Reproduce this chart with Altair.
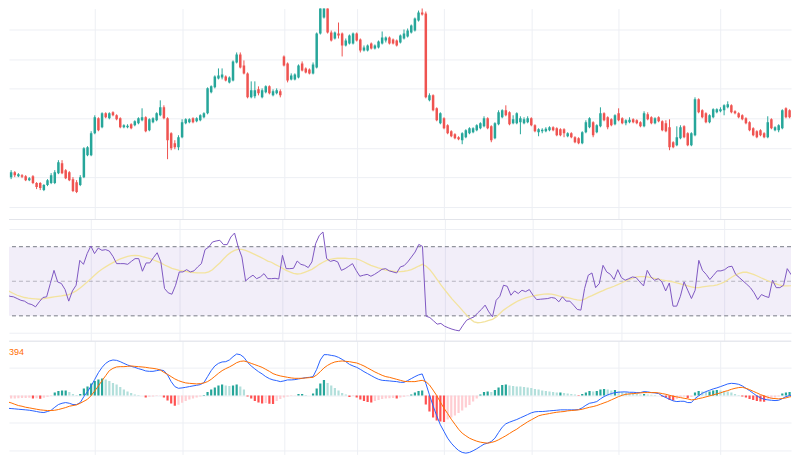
import altair as alt
import pandas as pd

W = 784
H_MAIN, H_RSI, H_MACD = 211, 122, 114

GRID = "#EDEFF4"
SEP = "#E2E4EA"
UP, DOWN = "#26A69A", "#EF5350"

open_ = [308, 303, 308, 304, 305, 304, 300, 304, 297, 297,
         290, 295, 297, 297, 307, 317, 310, 308, 301, 298,
         295, 303, 325, 325, 347, 362, 353, 367, 362, 368,
         365, 362, 353, 353, 356, 355, 357, 360, 363, 350,
         358, 360, 365, 373, 362, 347, 337, 333, 343, 357,
         358, 362, 359, 360, 363, 367, 388, 393, 402, 403,
         404, 398, 400, 418, 426, 415, 407, 383, 384, 391,
         383, 388, 394, 385, 387, 389, 424, 417, 401, 401,
         403, 417, 412, 411, 407, 413, 447, 463, 476, 448,
         442, 447, 447, 435, 437, 437, 447, 441, 430, 430,
         437, 432, 433, 437, 440, 443, 441, 440, 438, 442,
         444, 448, 450, 460, 468, 467, 380, 385, 372, 357,
         362, 355, 349, 346, 343, 340, 343, 347, 348, 350,
         352, 354, 362, 354, 342, 356, 363, 370, 368, 357,
         357, 358, 357, 358, 362, 355, 348, 349, 349, 350,
         353, 352, 351, 351, 344, 347, 343, 342, 337, 348,
         353, 358, 348, 354, 367, 363, 361, 356, 367, 362,
         357, 358, 361, 360, 358, 354, 366, 363, 357, 363,
         359, 357, 353, 338, 335, 342, 354, 347, 335, 345,
         381, 370, 367, 358, 363, 368, 369, 370, 373, 375,
         369, 367, 365, 362, 358, 352, 349, 350, 347, 343,
         361, 350, 350, 352, 372, 370, 370]

close_ = [302, 308, 305, 306, 303.5, 300, 302, 297, 293, 292,
          295, 300, 305, 308, 318, 307, 302, 300, 289, 288,
          303, 332, 333, 347, 363, 350, 367, 363, 367, 365,
          361, 353, 355, 354.5, 352, 359, 362, 363, 349, 361,
          362, 367, 373, 362, 340, 332, 333, 343, 358, 361,
          361, 358, 362, 365, 367, 392, 394, 404, 405, 406,
          400, 403, 419, 426, 413, 407, 383, 390, 390, 387,
          390, 394, 387, 389, 390, 385, 415, 400, 405, 406,
          415, 410, 408, 407, 416, 447, 478, 477, 448, 440,
          448, 445, 435, 440, 445, 447, 440, 430, 433, 435,
          432, 435, 439, 443, 443, 437, 437, 435, 445, 447,
          450, 455, 462, 468, 466, 383, 385, 370, 360, 367,
          352, 347, 344, 342, 341, 347, 350, 352, 352, 355,
          357, 362, 352, 340, 357, 368, 370, 365, 356, 361,
          367, 362, 361, 362, 355, 349, 351, 350.5, 351.5, 353,
          350, 345, 345, 347, 347, 343, 338, 337, 348, 358,
          362, 345, 355, 367, 360, 353, 355, 365, 360, 357,
          360, 360.5, 358, 357, 354, 367, 361, 357, 362, 359,
          350, 349, 333, 333, 343, 353, 343, 335, 347, 381,
          368, 363, 358, 365, 371, 371, 371, 375, 376, 368,
          367, 363, 361, 357, 350, 345, 343, 345, 343, 358,
          352, 353, 355, 370, 363, 363, 365]

high_ = [310, 310, 309, 307, 306, 305, 303, 305, 298, 298,
         296, 301, 307, 310, 320, 320, 311, 309, 303, 300,
         305, 333, 334, 349, 365, 363, 368, 368, 368, 369,
         366, 363, 356, 356, 357, 360, 363, 372, 364, 362,
         363, 368, 380, 375, 363, 348, 340, 345, 361, 362,
         362, 363, 363, 366, 368, 393, 395, 405, 412, 412,
         405, 404, 420, 428, 428, 420, 408, 399, 399, 394,
         392, 395, 395, 391, 392, 391, 425, 418, 407, 407,
         416, 419, 413, 412, 418, 448, 480, 479, 477, 450,
         449, 458, 448, 442, 446, 448, 448, 442, 435, 436,
         438, 436, 440, 449, 444, 444, 442, 441, 446, 451,
         452, 456, 463, 470, 473, 469, 387, 386, 373, 368,
         363, 356, 350, 347, 344, 348, 351, 353, 353, 356,
         358, 364, 363, 355, 358, 370, 371, 375, 369, 365,
         368, 364, 363, 364, 363, 356, 352, 352, 353, 354,
         354, 353, 352, 352, 348, 348, 344, 343, 349, 360,
         363, 359, 356, 373, 368, 364, 362, 366, 372, 363,
         361, 363, 362, 361, 359, 369, 368, 364, 363, 364,
         360, 360, 361, 339, 354, 355, 355, 348, 348, 383,
         382, 371, 368, 366, 372, 372, 373, 376, 379, 376,
         370, 368, 366, 363, 359, 353, 350, 351, 348, 364,
         362, 354, 356, 371, 373, 371, 371]

low_ = [300, 301, 303, 303, 302, 299, 299, 296, 291, 290,
        289, 294, 296, 296, 306, 306, 301, 299, 288, 287,
        294, 302, 324, 324, 346, 349, 352, 362, 361, 364,
        360, 352, 352, 352, 351, 354, 356, 359, 348, 349,
        357, 359, 364, 361, 321, 330, 331, 330, 342, 356,
        357, 357, 358, 359, 362, 366, 387, 392, 401, 401,
        399, 397, 399, 417, 412, 406, 382, 382, 382, 385,
        382, 387, 386, 384, 386, 383, 414, 398, 400, 400,
        402, 409, 407, 406, 406, 412, 446, 462, 447, 439,
        441, 442, 424, 434, 436, 436, 439, 428, 429, 429,
        431, 431, 432, 436, 438, 436, 436, 434, 437, 441,
        443, 447, 449, 459, 465, 382, 379, 369, 359, 356,
        351, 346, 343, 341, 340, 336, 342, 346, 347, 349,
        351, 353, 351, 338, 341, 355, 362, 364, 355, 356,
        356, 346, 356, 357, 354, 348, 344, 347, 348, 349,
        349, 344, 344, 343, 343, 342, 337, 336, 336, 347,
        352, 343, 347, 353, 359, 351, 354, 355, 359, 356,
        355, 357, 357, 356, 353, 353, 360, 356, 356, 358,
        349, 348, 330, 332, 334, 341, 342, 334, 334, 344,
        367, 362, 357, 357, 362, 367, 368, 365, 372, 367,
        366, 362, 360, 356, 349, 344, 342, 344, 342, 342,
        351, 349, 348, 351, 362, 362, 364]

rsi = [39.0, 42.9, 41.3, 41.0, 40.0, 39.0, 38.5, 37.1, 36.5, 35.2,
       38.1, 40.6, 41.0, 48.7, 56.3, 49.6, 48.7, 45.2, 38.5, 44.4,
       47.7, 62.1, 59.8, 66.0, 70.4, 66.0, 69.2, 67.9, 68.3, 67.5,
       64.4, 60.2, 60.2, 60.2, 59.8, 61.5, 63.1, 63.1, 55.8, 60.6,
       60.6, 63.7, 66.5, 61.2, 45.8, 43.3, 42.5, 47.7, 55.4, 55.4,
       56.7, 55.4, 56.0, 58.3, 60.2, 68.3, 69.8, 72.7, 73.3, 73.7,
       71.2, 71.2, 75.6, 77.9, 69.8, 64.0, 50.2, 52.1, 53.5, 51.5,
       52.5, 54.4, 51.5, 51.5, 51.7, 51.3, 65.0, 57.3, 57.3, 57.5,
       61.7, 59.8, 59.2, 57.9, 61.2, 71.7, 76.5, 78.5, 63.1, 61.5,
       62.1, 61.2, 56.3, 57.3, 58.7, 60.2, 56.3, 52.9, 53.5, 54.0,
       52.9, 54.0, 55.4, 56.9, 57.3, 56.0, 55.4, 54.8, 58.3, 59.0,
       61.2, 64.0, 66.9, 71.3, 70.2, 29.8, 29.0, 27.1, 25.2, 25.6,
       24.0, 23.1, 22.3, 21.7, 21.3, 24.6, 27.5, 28.5, 29.4, 31.7,
       33.7, 36.2, 32.3, 29.4, 39.0, 41.3, 47.7, 47.1, 41.9, 44.4,
       42.9, 44.8, 44.0, 45.2, 41.9, 39.4, 39.6, 39.8, 40.0, 40.6,
       40.2, 38.1, 41.0, 38.5, 38.5, 36.2, 33.7, 33.3, 45.8, 53.5,
       54.8, 46.3, 48.7, 59.2, 55.4, 54.0, 51.0, 56.7, 52.1, 50.6,
       51.5, 52.5, 52.1, 49.6, 47.3, 56.3, 52.5, 50.6, 51.5, 49.6,
       44.4, 49.0, 35.6, 35.6, 41.3, 49.6, 44.8, 40.0, 44.8, 62.1,
       56.3, 54.0, 51.0, 53.5, 56.0, 56.0, 56.7, 58.3, 58.7, 54.0,
       52.1, 50.2, 48.3, 46.3, 43.3, 39.4, 42.3, 41.3, 40.6, 50.6,
       46.3, 46.3, 47.7, 57.3, 54.0, 56.7, 54.8]

rsi_ma = [46.2, 45.2, 44.0, 42.9, 41.9, 41.2, 40.6, 40.2, 40.0, 39.8,
          39.6, 39.8, 40.2, 40.6, 41.0, 41.3, 41.5, 41.9, 42.3, 43.3,
          44.4, 46.0, 47.7, 49.6, 51.5, 53.5, 55.4, 56.9, 58.3, 59.6,
          60.8, 61.9, 62.9, 63.7, 64.4, 64.8, 65.0, 64.8, 64.2, 63.7,
          63.1, 62.3, 61.5, 60.6, 59.4, 58.5, 57.5, 56.9, 56.3, 56.0,
          55.6, 55.2, 55.0, 54.8, 54.8, 54.8, 55.4, 56.7, 58.7, 60.6,
          62.9, 65.0, 66.7, 67.9, 68.5, 68.5, 67.9, 67.0, 66.0, 65.0,
          64.0, 62.9, 61.7, 61.0, 59.8, 58.7, 57.5, 56.3, 55.4, 54.6,
          54.2, 54.4, 55.2, 56.0, 56.9, 58.3, 59.8, 61.0, 62.1, 62.7,
          63.1, 63.3, 63.3, 63.3, 63.1, 63.1, 62.9, 62.3, 61.3, 60.2,
          59.2, 58.5, 57.7, 57.1, 56.5, 56.2, 55.8, 55.6, 55.6, 55.8,
          56.2, 56.7, 57.7, 58.8, 59.8, 58.7, 56.7, 54.0, 51.0, 47.9,
          45.2, 42.5, 39.8, 37.5, 35.2, 32.7, 30.4, 28.1, 26.5, 26.0,
          26.2, 26.7, 27.3, 27.9, 29.4, 31.3, 33.3, 34.8, 36.2, 37.5,
          38.7, 39.6, 40.4, 41.0, 41.5, 41.9, 42.3, 42.5, 42.7, 42.5,
          42.1, 41.5, 41.0, 40.6, 40.2, 39.6, 39.2, 39.0, 39.6, 40.8,
          41.7, 42.7, 43.7, 44.6, 45.6, 46.3, 47.1, 48.1, 49.0, 50.0,
          51.0, 51.7, 52.5, 52.7, 52.7, 52.5, 52.1, 51.7, 51.3, 50.8,
          50.4, 50.0, 49.6, 49.0, 48.5, 47.9, 47.3, 46.7, 46.3, 46.3,
          46.7, 47.1, 47.3, 47.5, 47.9, 48.7, 49.6, 51.0, 52.5, 53.7,
          54.6, 55.2, 55.2, 54.6, 53.8, 52.9, 51.9, 51.0, 50.0, 49.2,
          48.5, 47.7, 47.3, 47.3, 47.5, 47.9, 48.3]

macd = [-1.27, -1.30, -1.33, -1.37, -1.40, -1.43, -1.47, -1.53, -1.60, -1.67,
        -1.70, -1.60, -1.47, -1.17, -0.90, -0.77, -0.70, -0.77, -0.90, -0.90,
        -0.70, -0.10, 0.40, 0.97, 1.63, 2.30, 2.83, 3.23, 3.47, 3.57,
        3.53, 3.40, 3.23, 3.07, 2.93, 2.83, 2.70, 2.60, 2.47, 2.43,
        2.43, 2.50, 2.57, 2.50, 2.07, 1.40, 0.90, 0.73, 0.77, 0.83,
        0.90, 0.97, 1.03, 1.10, 1.30, 1.90, 2.50, 2.97, 3.23, 3.37,
        3.40, 3.57, 3.90, 4.17, 4.10, 3.83, 3.33, 2.97, 2.67, 2.40,
        2.17, 1.90, 1.70, 1.57, 1.50, 1.40, 1.47, 1.57, 1.57, 1.60,
        1.67, 1.73, 1.80, 1.83, 1.90, 2.63, 3.57, 4.10, 4.10, 4.03,
        3.97, 3.83, 3.63, 3.40, 3.13, 2.97, 2.83, 2.63, 2.40, 2.20,
        2.00, 1.80, 1.63, 1.53, 1.50, 1.47, 1.43, 1.40, 1.33, 1.33,
        1.50, 1.70, 1.90, 2.07, 2.17, 1.23, 0.07, -1.03, -2.03, -2.93,
        -3.60, -4.27, -4.77, -5.17, -5.50, -5.70, -5.77, -5.70, -5.53, -5.33,
        -5.10, -4.87, -4.77, -4.60, -4.27, -3.70, -3.17, -2.83, -2.67, -2.53,
        -2.40, -2.23, -2.07, -1.90, -1.73, -1.63, -1.60, -1.60, -1.57, -1.53,
        -1.50, -1.47, -1.43, -1.43, -1.43, -1.43, -1.43, -1.40, -1.23, -0.97,
        -0.77, -0.70, -0.60, -0.33, -0.10, 0.07, 0.20, 0.30, 0.33, 0.37,
        0.37, 0.33, 0.33, 0.30, 0.30, 0.40, 0.37, 0.30, 0.27, 0.20,
        -0.03, -0.20, -0.37, -0.53, -0.60, -0.57, -0.57, -0.70, -0.70, -0.30,
        -0.03, 0.23, 0.40, 0.53, 0.67, 0.77, 0.90, 1.03, 1.17, 1.23,
        1.20, 1.13, 0.97, 0.73, 0.50, 0.23, -0.03, -0.23, -0.37, -0.43,
        -0.47, -0.50, -0.47, -0.30, -0.10, 0.00, 0.07]

signal = [-0.63, -0.73, -0.87, -1.00, -1.07, -1.17, -1.23, -1.30, -1.37, -1.43,
          -1.47, -1.50, -1.50, -1.47, -1.40, -1.30, -1.20, -1.07, -1.00, -0.93,
          -0.77, -0.57, -0.37, 0.00, 0.47, 0.97, 1.50, 2.00, 2.50, 2.73,
          2.87, 2.90, 2.90, 2.93, 2.97, 2.93, 2.90, 2.87, 2.83, 2.77,
          2.73, 2.67, 2.57, 2.33, 2.13, 1.90, 1.67, 1.50, 1.37, 1.27,
          1.23, 1.20, 1.17, 1.20, 1.27, 1.40, 1.63, 1.93, 2.23, 2.50,
          2.70, 2.87, 3.07, 3.30, 3.43, 3.47, 3.37, 3.23, 3.10, 2.97,
          2.83, 2.63, 2.43, 2.20, 2.07, 1.97, 1.90, 1.83, 1.77, 1.73,
          1.73, 1.73, 1.77, 1.80, 1.83, 2.07, 2.40, 2.77, 3.03, 3.23,
          3.37, 3.43, 3.47, 3.43, 3.40, 3.33, 3.27, 3.13, 2.97, 2.77,
          2.57, 2.37, 2.20, 2.03, 1.90, 1.83, 1.73, 1.63, 1.53, 1.43,
          1.40, 1.40, 1.40, 1.47, 1.53, 1.40, 1.07, 0.55, 0.00, -0.65,
          -1.27, -1.80, -2.37, -2.87, -3.37, -3.77, -4.03, -4.27, -4.43, -4.57,
          -4.67, -4.73, -4.77, -4.70, -4.60, -4.43, -4.23, -4.03, -3.80, -3.57,
          -3.37, -3.10, -2.87, -2.63, -2.43, -2.23, -2.03, -1.93, -1.87, -1.80,
          -1.73, -1.67, -1.63, -1.60, -1.53, -1.50, -1.47, -1.43, -1.37, -1.27,
          -1.17, -1.10, -1.00, -0.87, -0.73, -0.60, -0.43, -0.27, -0.10, 0.03,
          0.13, 0.17, 0.20, 0.23, 0.27, 0.30, 0.30, 0.30, 0.30, 0.27,
          0.20, 0.13, 0.03, -0.07, -0.13, -0.20, -0.27, -0.33, -0.43, -0.40,
          -0.30, -0.23, -0.13, -0.03, 0.07, 0.17, 0.27, 0.40, 0.50, 0.63,
          0.73, 0.80, 0.83, 0.73, 0.60, 0.43, 0.27, 0.10, -0.03, -0.17,
          -0.27, -0.30, -0.33, -0.30, -0.23, -0.13, -0.07]

hist = [-0.32, -0.30, -0.29, -0.27, -0.25, -0.24, -0.22, -0.30, -0.28, -0.33,
        -0.22, -0.12, -0.03, 0.30, 0.45, 0.50, 0.52, 0.35, 0.15, 0.05,
        0.15, 0.70, 0.90, 1.20, 1.45, 1.60, 1.70, 1.60, 1.45, 1.25,
        1.10, 0.85, 0.60, 0.40, 0.25, 0.12, 0.06, 0.02, -0.18, -0.12,
        -0.08, -0.05, -0.02, -0.20, -0.50, -0.80, -1.02, -0.92, -0.72, -0.55,
        -0.40, -0.30, -0.20, -0.10, 0.05, 0.35, 0.60, 0.80, 1.00, 1.10,
        1.02, 0.95, 1.00, 1.10, 0.90, 0.60, -0.10, -0.30, -0.55, -0.70,
        -0.80, -0.75, -0.82, -0.85, -0.55, -0.35, -0.20, -0.10, -0.05, -0.02,
        0.15, 0.16, 0.05, 0.02, 0.20, 0.70, 1.20, 1.55, 1.25, 1.00,
        0.75, 0.50, 0.25, 0.10, -0.15, -0.05, -0.20, -0.40, -0.55, -0.65,
        -0.70, -0.55, -0.45, -0.35, -0.30, -0.28, -0.25, -0.30, -0.20, -0.12,
        -0.05, 0.10, 0.30, 0.45, 0.50, -0.90, -1.60, -2.20, -2.50, -2.60,
        -2.65, -2.40, -2.20, -2.00, -1.75, -1.50, -1.20, -0.95, -0.60, -0.30,
        0.10, 0.35, 0.40, 0.35, 0.55, 0.80, 1.05, 1.10, 1.00, 0.95,
        0.92, 0.90, 0.85, 0.80, 0.75, 0.65, 0.60, 0.50, 0.45, 0.40,
        0.35, 0.30, 0.32, 0.25, 0.20, 0.15, 0.10, -0.05, 0.15, 0.30,
        0.45, 0.40, 0.45, 0.60, 0.65, 0.60, 0.50, 0.55, 0.45, 0.35,
        0.30, 0.25, 0.20, 0.15, 0.10, 0.15, 0.12, 0.08, 0.05, 0.02,
        -0.10, -0.20, -0.45, -0.50, -0.35, -0.15, -0.10, -0.25, -0.15, 0.30,
        0.45, 0.40, 0.35, 0.40, 0.50, 0.55, 0.50, 0.45, 0.40, 0.30,
        0.15, 0.05, -0.10, -0.20, -0.35, -0.45, -0.55, -0.60, -0.62, -0.40,
        -0.30, -0.20, -0.10, 0.20, 0.30, 0.35, 0.40]

idx = list(range(len(close_)))

x_domain = [1.787, 214.02]
x_grid = [24, 48, 76, 96, 120, 144, 168, 196]
price_domain = [261, 472]
price_grid = [273, 302.7, 332.3, 361.7, 391.7, 420.7, 450.7]
rsi_domain = [15.6, 86.0]
rsi_grid = [20, 80]
rsi_outer = [70, 30]
rsi_mid = [50]
macd_domain = [-5.9, 5.5]
macd_grid = [-5.5, -2.75, 0, 2.75, 5.5]
legend_text = ["394"]

hist_cat = []
for k, h in enumerate(hist):
    prev = hist[k - 1] if k > 0 else h - 1e-9
    if h >= 0:
        hist_cat.append("grow_above" if h > prev else "fall_above")
    else:
        hist_cat.append("rise_below" if h > prev else "fall_below")

df = pd.DataFrame({
    "i": idx, "open": open_, "high": high_, "low": low_, "close": close_,
    "rsi": rsi, "rsi_ma": rsi_ma, "macd": macd, "signal": signal,
    "hist": hist, "hcat": hist_cat,
})
df["dir"] = ["up" if c >= o else "down" for o, c in zip(open_, close_)]


def xaxis():
    return alt.Axis(values=x_grid, labels=False, ticks=False, domain=False,
                    title=None, grid=True, gridColor=GRID, gridWidth=1, minExtent=0)


def xenc():
    return alt.X("i:Q", scale=alt.Scale(domain=x_domain, nice=False, zero=False),
                 axis=xaxis())


def yenc(field, domain, grid_vals):
    return alt.Y(field, scale=alt.Scale(domain=domain, nice=False, zero=False),
                 axis=alt.Axis(values=grid_vals, labels=False, ticks=False, domain=False,
                               title=None, grid=True, gridColor=GRID, gridWidth=1,
                               minExtent=0))


candle_color = alt.Color("dir:N", scale=alt.Scale(domain=["up", "down"], range=[UP, DOWN]),
                         legend=None)

base = alt.Chart(df)

wicks = base.mark_rule(strokeWidth=1, clip=True).encode(
    x=xenc(), y=yenc("low:Q", price_domain, price_grid), y2="high:Q", color=candle_color)
bodies = base.mark_bar(size=2.5, clip=True).encode(
    x=xenc(), y=yenc("open:Q", price_domain, price_grid), y2="close:Q", color=candle_color)
main = alt.layer(wicks, bodies).properties(width=W, height=H_MAIN)

# RSI pane
sep_df = pd.DataFrame({"s": [0]})
band = alt.Chart(pd.DataFrame({"top": [rsi_outer[0]], "bottom": [rsi_outer[1]]})).mark_rect(
    color="#7E57C2", opacity=0.1).encode(
    y=yenc("top:Q", rsi_domain, rsi_grid), y2="bottom:Q", x=alt.value(0), x2=alt.value(W))
outer_lines = alt.Chart(pd.DataFrame({"level": rsi_outer})).mark_rule(
    color="#787B86", strokeDash=[4, 3], strokeWidth=1).encode(
    y=yenc("level:Q", rsi_domain, rsi_grid))
mid_line = alt.Chart(pd.DataFrame({"level": rsi_mid})).mark_rule(
    color="#787B86", strokeDash=[4, 3], strokeWidth=1, opacity=0.5).encode(
    y=yenc("level:Q", rsi_domain, rsi_grid))
rsi_line = base.mark_line(color="#7E57C2", strokeWidth=1, clip=True).encode(
    x=xenc(), y=yenc("rsi:Q", rsi_domain, rsi_grid))
ma_line = base.mark_line(color="#F3E39E", strokeWidth=1.3, clip=True).encode(
    x=xenc(), y=yenc("rsi_ma:Q", rsi_domain, rsi_grid))
sep1 = alt.Chart(sep_df).mark_rule(color=SEP, strokeWidth=1).encode(y=alt.value(0.5))
rsi_pane = alt.layer(band, outer_lines, mid_line, ma_line, rsi_line, sep1).properties(
    width=W, height=H_RSI)

# MACD pane
hist_color = alt.Color("hcat:N", scale=alt.Scale(
    domain=["grow_above", "fall_above", "rise_below", "fall_below"],
    range=["#26A69A", "#B2DFDB", "#FFCDD2", "#FF5252"]), legend=None)
hist_bars = base.mark_bar(size=2.2, clip=True).encode(
    x=xenc(), y=yenc("hist:Q", macd_domain, macd_grid), y2=alt.datum(0), color=hist_color)
macd_line = base.mark_line(color="#2962FF", strokeWidth=1, clip=True).encode(
    x=xenc(), y=yenc("macd:Q", macd_domain, macd_grid))
signal_line = base.mark_line(color="#FF6D00", strokeWidth=1, clip=True).encode(
    x=xenc(), y=yenc("signal:Q", macd_domain, macd_grid))
label = alt.Chart(pd.DataFrame({"t": legend_text})).mark_text(
    align="left", baseline="middle", fontSize=9, color="#FF6D00",
    font="Liberation Sans").encode(text="t:N", x=alt.value(0), y=alt.value(11))
sep2 = alt.Chart(sep_df).mark_rule(color=SEP, strokeWidth=1).encode(y=alt.value(0.5))
macd_pane = alt.layer(hist_bars, macd_line, signal_line, label, sep2).properties(
    width=W, height=H_MACD)

chart = alt.vconcat(main, rsi_pane, macd_pane, spacing=0, bounds="flush").resolve_scale(
    color="independent"
).properties(
    padding=0
).configure_view(stroke=None)

chart.save("out.html", embed_options={"renderer": "svg", "actions": False})
